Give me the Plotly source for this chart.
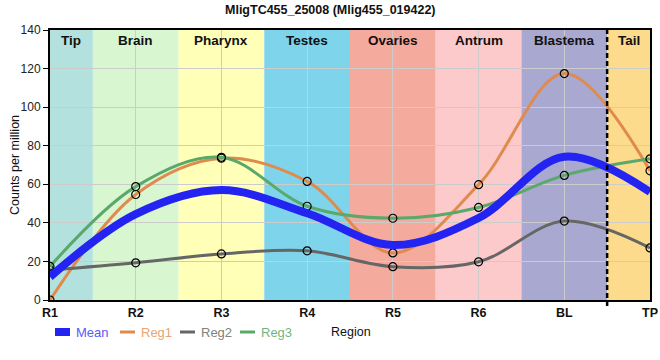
import plotly.graph_objects as go

categories = ["R1", "R2", "R3", "R4", "R5", "R6", "BL", "TP"]
mean_vals = [12, 44.5, 57, 45, 28.5, 42.5, 74.3, 56]
reg1_vals = [0, 54.7, 73.5, 61.5, 24.4, 59.8, 117.4, 67]
reg2_vals = [15.5, 19.3, 23.9, 25.5, 17.3, 19.8, 40.9, 27]
reg3_vals = [17.4, 58.8, 74, 48.6, 42.4, 48, 64.6, 73.2]
band_names = ["Tip", "Brain", "Pharynx", "Testes", "Ovaries", "Antrum", "Blastema", "Tail"]
band_colors = ["#B3E2DE", "#D8F6D0", "#FFFFB8", "#7ED4EB", "#F4AA9D", "#FDCACB", "#A8A8D0", "#FDDB8C"]

title = "MligTC455_25008 (Mlig455_019422)"

W, H = 660, 360
ML, MR, MT, MB = 50, 10, 30, 60
PW, PH = W - ML - MR, H - MT - MB


def px_x(px):
    return (px - ML) / PW


def px_y(py):
    return (H - MB - py) / PH


fig = go.Figure()

n = len(categories)
shapes = []
annotations = []
for i, (name, col) in enumerate(zip(band_names, band_colors)):
    x0 = max(0, i - 0.5)
    x1 = min(n - 1, i + 0.5)
    shapes.append(dict(type="rect", xref="x", yref="paper", x0=x0, x1=x1, y0=0, y1=1,
                       fillcolor=col, line=dict(width=0), layer="below"))
    annotations.append(dict(x=(x0 + x1) / 2, y=1, xref="x", yref="paper", yanchor="top",
                            yshift=-1, text="<b>%s</b>" % name, showarrow=False,
                            font=dict(size=13.5, color="#111111")))

shapes.append(dict(type="line", xref="x", yref="paper", x0=n - 1.5, x1=n - 1.5, y0=px_y(306), y1=1,
                   line=dict(color="black", width=2.5, dash="5px,3px"), layer="above"))

series = [
    ("Reg1", reg1_vals, "#E08B4E", 3, "#E8A475", True),
    ("Reg2", reg2_vals, "#666666", 3, "#808080", True),
    ("Reg3", reg3_vals, "#5AA86A", 3, "#74B583", True),
    ("Mean", mean_vals, "#2323F2", 8, "#5A5AF5", False),
]
for name, vals, col, w, tcol, markers in series:
    fig.add_trace(go.Scatter(
        x=categories, y=vals, name=name, showlegend=False,
        mode="lines+markers" if markers else "lines",
        line=dict(color=col, width=w, shape="spline", smoothing=1.0),
        marker=dict(symbol="circle-open", size=8, color="black", line=dict(width=1.2, color="black")),
    ))

# manual legend (order: Mean, Reg1, Reg2, Reg3)
legend_items = [("Mean", "#2323F2", "#5A5AF5", 8, 55), ("Reg1", "#E08B4E", "#E8A475", 3, 120),
                ("Reg2", "#666666", "#808080", 3, 180), ("Reg3", "#5AA86A", "#74B583", 3, 240)]
ly = px_y(332)
for name, col, tcol, w, sx in legend_items:
    shapes.append(dict(type="line", xref="paper", yref="paper", x0=px_x(sx), x1=px_x(sx + 15),
                       y0=ly, y1=ly, line=dict(color=col, width=w)))
    annotations.append(dict(x=px_x(sx + 19), y=ly, xref="paper", yref="paper", xanchor="left",
                            yanchor="middle", text=name, showarrow=False,
                            font=dict(size=13, color=tcol)))

# title
annotations.append(dict(x=px_x(330), y=px_y(10), xref="paper", yref="paper", xanchor="center",
                        yanchor="middle", text="<b>%s</b>" % title, showarrow=False,
                        font=dict(size=12.5, color="#111111")))
# axis titles
annotations.append(dict(x=px_x(351), y=px_y(332), xref="paper", yref="paper", xanchor="center",
                        yanchor="middle", text="Region", showarrow=False,
                        font=dict(size=12.5, color="#111111")))
annotations.append(dict(x=px_x(15), y=px_y(165), xref="paper", yref="paper", xanchor="center",
                        yanchor="middle", text="Counts per million", showarrow=False, textangle=-90,
                        font=dict(size=12.5, color="#111111")))

fig.update_layout(
    width=W, height=H,
    margin=dict(l=ML, r=MR, t=MT, b=MB),
    paper_bgcolor="white", plot_bgcolor="white",
    font=dict(family="Liberation Sans, Arial", size=12, color="#222222"),
    shapes=shapes, annotations=annotations,
    showlegend=False,
)
fig.update_xaxes(
    type="category", categoryorder="array", categoryarray=categories,
    range=[0, n - 1], showgrid=True, gridcolor="#CCCCCC", gridwidth=1,
    showline=True, linecolor="black", linewidth=2, mirror=True,
    ticks="", tickfont=dict(size=12.5, color="#111111"),
    ticktext=["<b>%s</b>" % c for c in categories], tickvals=categories,
    zeroline=False, automargin=False,
)
fig.update_yaxes(
    range=[0, 140], dtick=20, showgrid=True, gridcolor="#CCCCCC", gridwidth=1,
    showline=True, linecolor="black", linewidth=2, mirror=True,
    ticks="outside", ticklen=5, tickcolor="black", tickfont=dict(size=12, color="#222222"),
    zeroline=False, automargin=False,
)

fig.write_html("out.html", config={"displayModeBar": False},
               post_script="document.body.style.margin='0';")
